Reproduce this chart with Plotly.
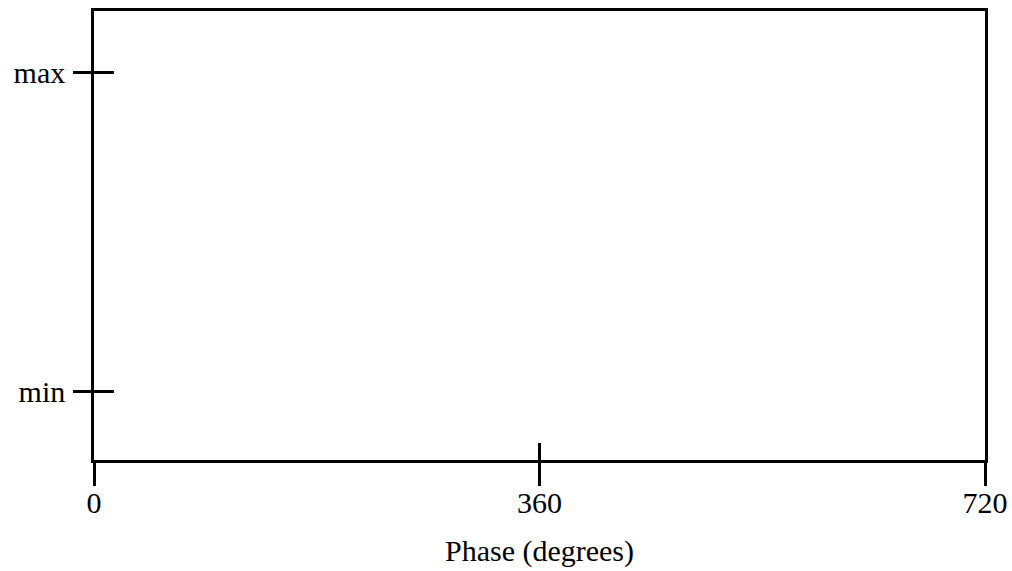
import plotly.graph_objects as go

x_tick_vals = [0, 360, 720]
x_tick_text = ["0", "360", "720"]
y_tick_vals = [0, 1]
y_tick_text = ["min", "max"]
x_range = [0, 720]
y_range = [-0.215, 1.193]

FONT = "Liberation Serif"
LW = 2.5

fig = go.Figure()
# empty traces so both axis pairs are drawn
fig.add_trace(go.Scatter(x=[], y=[], mode="lines", showlegend=False, hoverinfo="skip"))
fig.add_trace(go.Scatter(x=[], y=[], mode="lines", showlegend=False, hoverinfo="skip",
                         xaxis="x2", yaxis="y2"))

common_font = dict(family=FONT, size=30, color="black")

fig.update_layout(
    width=1012, height=571,
    margin=dict(l=94, r=27, t=11, b=111, autoexpand=False),
    paper_bgcolor="white", plot_bgcolor="white",
    font=common_font,
    showlegend=False,
    xaxis=dict(
        range=x_range, tickvals=x_tick_vals, ticktext=x_tick_text,
        ticks="outside", ticklen=23, tickwidth=LW, tickcolor="black",
        showline=True, linecolor="black", linewidth=LW, mirror=True,
        showgrid=False, zeroline=False, tickfont=common_font,
        automargin=False, ticklabelstandoff=-9,
        title=dict(text="Phase (degrees)", font=common_font, standoff=23),
    ),
    yaxis=dict(
        range=y_range, tickvals=y_tick_vals, ticktext=y_tick_text,
        ticks="outside", ticklen=18, tickwidth=LW, tickcolor="black",
        showline=True, linecolor="black", linewidth=LW, mirror=True,
        showgrid=False, zeroline=False, tickfont=common_font,
        automargin=False, ticklabelstandoff=2,
    ),
    xaxis2=dict(
        range=x_range, tickvals=x_tick_vals, overlaying="x", side="bottom",
        ticks="inside", ticklen=17, tickwidth=LW, tickcolor="black",
        showticklabels=False, showline=False, showgrid=False, zeroline=False,
    ),
    yaxis2=dict(
        range=y_range, tickvals=y_tick_vals, overlaying="y", side="left",
        ticks="inside", ticklen=20, tickwidth=LW, tickcolor="black",
        showticklabels=False, showline=False, showgrid=False, zeroline=False,
    ),
)

fig.write_html("out.html", config={"displayModeBar": False},
               post_script="document.body.style.margin='0';document.body.style.overflow='hidden';")
